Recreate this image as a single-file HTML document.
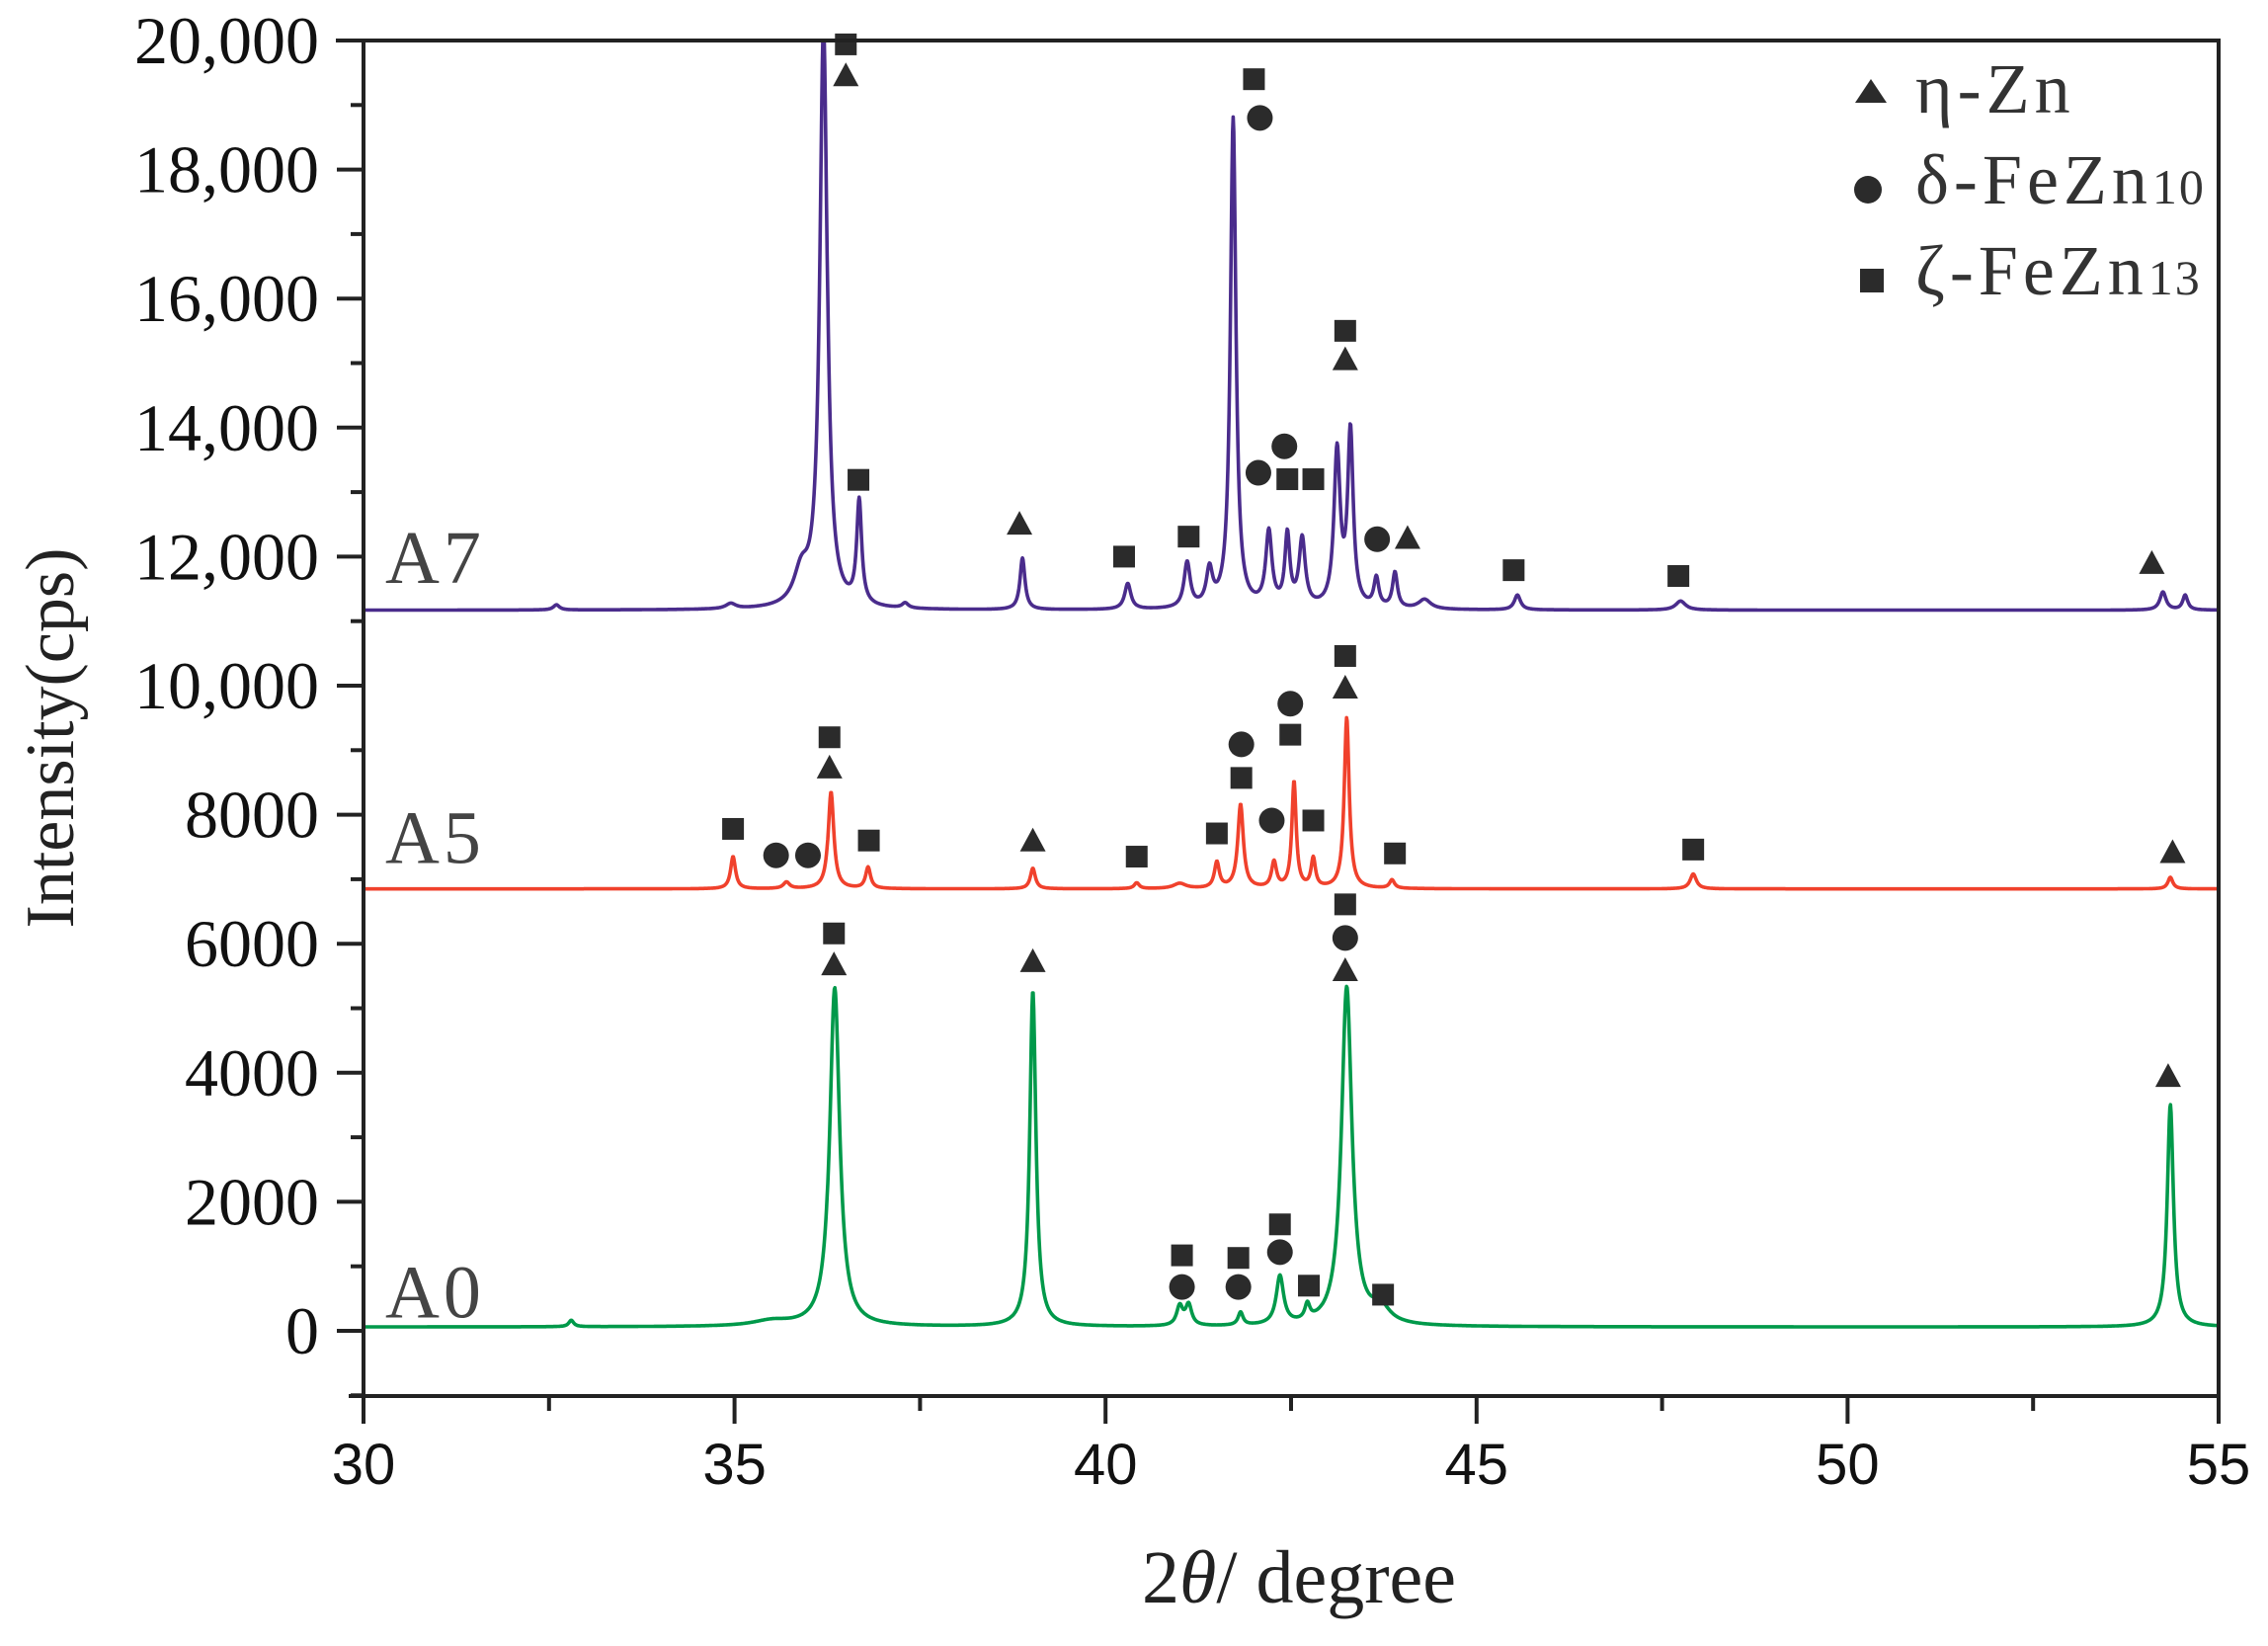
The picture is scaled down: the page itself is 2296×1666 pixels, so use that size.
<!DOCTYPE html>
<html><head><meta charset="utf-8"><style>
html,body{margin:0;padding:0;background:#fff;}
svg{display:block;}
</style></head><body>
<svg id="chart" width="2296" height="1666" viewBox="0 0 2296 1666" xmlns="http://www.w3.org/2000/svg">
<rect x="0" y="0" width="2296" height="1666" fill="#fff"/>
<g id="plot"></g>
<g id="axes"></g>
<g id="legend">
  <polygon points="1894,80 1910,104 1878,104" fill="#2b2b2b"/>
  <text x="1939" y="114" font-family="Liberation Serif, serif" font-size="72" letter-spacing="5" fill="#333">η-Zn</text>
  <circle cx="1891" cy="192" r="14" fill="#2b2b2b"/>
  <text x="1939" y="206" font-family="Liberation Serif, serif" font-size="72" letter-spacing="5" fill="#333">δ-FeZn<tspan font-size="50" letter-spacing="2">10</tspan></text>
  <rect x="1883" y="272" width="24" height="24" fill="#2b2b2b"/>
  <text x="1939" y="298" font-family="Liberation Serif, serif" font-size="72" letter-spacing="5" fill="#333">ζ-FeZn<tspan font-size="50" letter-spacing="2">13</tspan></text>
</g>
</svg>
<script>
// ---- data ----
const xTicks = [30, 35, 40, 45, 50, 55];
const yTicks = [0, 2000, 4000, 6000, 8000, 10000, 12000, 14000, 16000, 18000, 20000];
const yTickLabels = ["0","2000","4000","6000","8000","10,000","12,000","14,000","16,000","18,000","20,000"];
const seriesNames = ["A0", "A5", "A7"];
const baseA0 = 60, baseA5 = 6850, baseA7 = 11170;
// peaks: [2theta, height above baseline, half-width]
const peaksA0 = [[32.8,100,0.04],[35.5,80,0.3],[36.35,5250,0.08],[39.02,5200,0.05],[41.0,300,0.05],[41.12,320,0.05],[41.82,200,0.04],[42.35,750,0.06],[42.72,240,0.04],[43.25,5250,0.085],[43.7,250,0.15],[54.35,3450,0.05]];
const peaksA5 = [[34.98,500,0.04],[35.7,100,0.05],[36.3,1500,0.045],[36.8,330,0.04],[39.02,320,0.04],[40.42,90,0.04],[41.0,80,0.1],[41.5,400,0.04],[41.82,1300,0.045],[42.27,400,0.04],[42.54,1650,0.035],[42.8,450,0.035],[43.25,2650,0.04],[43.86,130,0.04],[47.92,230,0.05],[54.35,180,0.04]];
const peaksA7 = [[32.6,80,0.05],[34.95,80,0.08],[35.9,500,0.12],[36.2,9000,0.06],[36.68,1600,0.04],[37.3,80,0.05],[38.88,800,0.04],[40.3,400,0.05],[41.1,700,0.05],[41.4,550,0.05],[41.72,7600,0.045],[42.2,1150,0.05],[42.45,1100,0.04],[42.65,1050,0.05],[43.12,2400,0.05],[43.3,2700,0.045],[43.65,450,0.04],[43.9,550,0.04],[44.3,150,0.1],[45.55,230,0.05],[47.75,140,0.08],[54.25,280,0.05],[54.55,230,0.04]];
// markers: [2theta, intensity, type]  t=triangle c=circle s=square
const markersA7 = [[36.5,19940,"s"],[36.5,19460,"t"],[36.67,13190,"s"],[38.84,12510,"t"],[40.25,12000,"s"],[41.12,12310,"s"],[42.0,19400,"s"],[42.08,18800,"c"],[42.06,13300,"c"],[42.41,13710,"c"],[42.45,13200,"s"],[42.8,13200,"s"],[43.23,15500,"s"],[43.23,15060,"t"],[43.66,12270,"c"],[44.07,12290,"t"],[45.5,11790,"s"],[47.72,11700,"s"],[54.1,11900,"t"]];
const markersA5 = [[34.98,7780,"s"],[35.56,7370,"c"],[35.99,7370,"c"],[36.28,9200,"s"],[36.28,8730,"t"],[36.81,7600,"s"],[39.02,7600,"t"],[40.42,7350,"s"],[41.5,7710,"s"],[41.83,9090,"c"],[41.83,8570,"s"],[42.24,7910,"c"],[42.8,7910,"s"],[42.49,9720,"c"],[42.49,9240,"s"],[43.23,10460,"s"],[43.23,9970,"t"],[43.9,7400,"s"],[47.92,7460,"s"],[54.38,7420,"t"]];
const markersA0 = [[36.34,6160,"s"],[36.34,5680,"t"],[39.02,5730,"t"],[43.23,6610,"s"],[43.23,6090,"c"],[43.23,5590,"t"],[54.32,3950,"t"],[41.03,1170,"s"],[41.03,680,"c"],[41.79,1130,"s"],[41.79,680,"c"],[42.35,1650,"s"],[42.35,1220,"c"],[42.74,700,"s"],[43.74,560,"s"]];

// ---- scales ----
const X0 = 368, X1 = 2246, Y0 = 1347, K = 0.0653;
const TOP = 41, BOT = 1413;
const xs = v => X0 + (v - 30) / 25 * (X1 - X0);
const ys = v => Y0 - v * K;
const NS = "http://www.w3.org/2000/svg";
function mk(tag, attrs, parent) {
  const e = document.createElementNS(NS, tag);
  for (const k in attrs) e.setAttribute(k, attrs[k]);
  parent.appendChild(e);
  return e;
}
const plot = document.getElementById("plot");
const axes = document.getElementById("axes");

const defs = mk("defs", {}, plot);
const cp = mk("clipPath", {id: "clip"}, defs);
mk("rect", {x: X0, y: TOP, width: X1 - X0, height: BOT - TOP}, cp);

function curve(base, peaks, x) {
  let v = base;
  for (const p of peaks) { const d = (x - p[0]) / p[2]; v += p[1] / (1 + d * d); }
  return v;
}
function drawSeries(base, peaks, color, name) {
  let d = "";
  for (let x = 30; x <= 55.0001; x += 0.008) {
    d += (d ? "L" : "M") + xs(x).toFixed(1) + "," + ys(curve(base, peaks, x)).toFixed(1);
  }
  const p = mk("path", {d: d, fill: "none", stroke: color, "stroke-width": 3.6, "stroke-linejoin": "round", "clip-path": "url(#clip)"}, plot);
  
  
}
drawSeries(baseA0, peaksA0, "#00994a", "series-a0-line");
drawSeries(baseA5, peaksA5, "#f0412c", "series-a5-line");
drawSeries(baseA7, peaksA7, "#4a2c8c", "series-a7-line");

function drawMarkers(list, name) {
  for (const m of list) {
    const cx = xs(m[0]), cy = ys(m[1]);
    let e;
    if (m[2] === "t") e = mk("polygon", {points: `${cx},${cy-13} ${cx+13},${cy+11} ${cx-13},${cy+11}`, fill: "#2b2b2b"}, plot);
    else if (m[2] === "c") e = mk("circle", {cx: cx, cy: cy, r: 13, fill: "#2b2b2b"}, plot);
    else e = mk("rect", {x: cx - 11, y: cy - 11, width: 22, height: 22, fill: "#2b2b2b"}, plot);
    
    
  }
}
drawMarkers(markersA7, "phase-marker-a7");
drawMarkers(markersA5, "phase-marker-a5");
drawMarkers(markersA0, "phase-marker-a0");

// series labels
const labelVals = [baseA0 + 150, baseA5 + 400, baseA7 + 420];
seriesNames.forEach((n, i) => {
  const t = mk("text", {x: 390, y: ys(labelVals[i]), "font-family": "Liberation Serif, serif", "font-size": 76, "letter-spacing": 4, fill: "#444"}, plot);
  t.textContent = n;
  
  
});

// frame
const fr = mk("path", {d: `M${X0},${BOT} L${X0},${TOP} L${X1},${TOP} L${X1},${BOT}`, fill: "none", stroke: "#222", "stroke-width": 4}, axes);


const xa = mk("line", {x1: 353, y1: BOT, x2: X1, y2: BOT, stroke: "#222", "stroke-width": 4}, axes);


const tl = mk("line", {x1: 340, y1: TOP, x2: X0, y2: TOP, stroke: "#222", "stroke-width": 4}, axes);



// y ticks
for (let v = -1000; v <= 20000; v += 1000) {
  const major = v % 2000 === 0;
  const tk = mk("line", {x1: X0 - (major ? 27 : 13), y1: ys(v), x2: X0, y2: ys(v), stroke: "#222", "stroke-width": 4}, axes);
  
  
}
yTicks.forEach((v, i) => {
  const t = mk("text", {x: 323, y: ys(v) + 23, "text-anchor": "end", "font-family": "Liberation Serif, serif", "font-size": 68, fill: "#111"}, axes);
  t.textContent = yTickLabels[i];
  
  
});
// x ticks
for (let v = 30; v <= 55; v += 2.5) {
  const major = v % 5 === 0;
  const tk = mk("line", {x1: xs(v), y1: BOT, x2: xs(v), y2: BOT + (major ? 28 : 15), stroke: "#222", "stroke-width": 4}, axes);
  
  
}
xTicks.forEach(v => {
  const t = mk("text", {x: xs(v), y: 1502, "text-anchor": "middle", "font-family": "Liberation Sans, sans-serif", "font-size": 58, fill: "#111"}, axes);
  t.textContent = String(v);
  
  
});
// titles
const xt = mk("text", {x: 1315, y: 1622, "text-anchor": "middle", "font-family": "Liberation Serif, serif", "font-size": 76, fill: "#222"}, axes);
xt.innerHTML = '2<tspan font-style="italic">θ</tspan>/ degree';


const yt = mk("text", {x: 0, y: 0, "text-anchor": "middle", "font-family": "Liberation Serif, serif", "font-size": 70, fill: "#222", transform: "translate(74,747) rotate(-90)"}, axes);
yt.textContent = "Intensity(cps)";


</script>
</body></html>
